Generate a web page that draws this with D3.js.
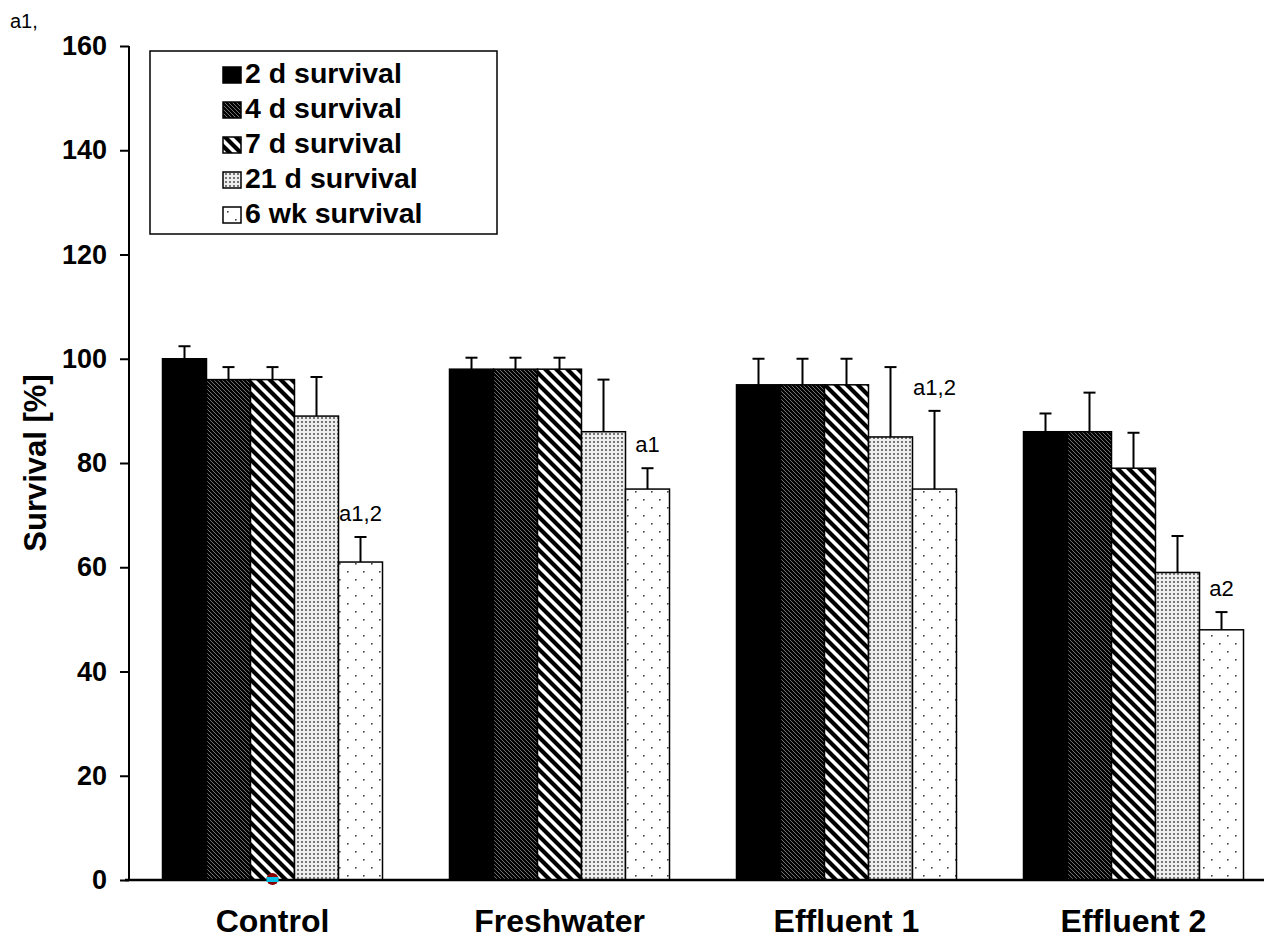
<!DOCTYPE html>
<html><head><meta charset="utf-8">
<script src="https://cdn.jsdelivr.net/npm/d3@7"></script>
<style>body{margin:0;background:#fff}svg{display:block}text{font-family:"Liberation Sans",Arial,sans-serif}</style>
</head><body>
<svg id="c" width="1264" height="946"></svg>
<script>
const groups = ["Control","Freshwater","Effluent 1","Effluent 2"];
const series = ["2 d survival","4 d survival","7 d survival","21 d survival","6 wk survival"];
const values = [
  [100, 96, 96, 89, 61],
  [98, 98, 98, 86, 75],
  [95, 95, 95, 85, 75],
  [86, 86, 79, 59, 48]
];
const errors = [
  [2.4, 2.4, 2.4, 7.5, 4.8],
  [2.2, 2.2, 2.2, 10, 4],
  [5, 5, 5, 13.4, 15],
  [3.5, 7.5, 6.8, 7, 3.4]
];
const annotations = [
  {g:0, s:4, text:"a1,2"},
  {g:1, s:4, text:"a1"},
  {g:2, s:4, text:"a1,2"},
  {g:3, s:4, text:"a2"}
];
const yTicks = [0,20,40,60,80,100,120,140,160];

const svg = d3.select("#c");
const defs = svg.append("defs");

function diag(id, p, sw, bg){
  const pt = defs.append("pattern").attr("id",id).attr("patternUnits","userSpaceOnUse")
    .attr("width",p).attr("height",p);
  pt.append("rect").attr("width",p).attr("height",p).attr("fill",bg);
  pt.append("path").attr("d",`M${-p},0 L${p},${2*p} M0,${-p} L${2*p},${p} M${-p},${-p} L${2*p},${2*p}`)
    .attr("stroke","#000").attr("stroke-width",sw);
}
diag("p4", 4, 2.5, "#fff");
diag("p7", 11, 4.2, "#fff");
{
  const pt = defs.append("pattern").attr("id","p21").attr("patternUnits","userSpaceOnUse").attr("width",4).attr("height",4);
  pt.append("rect").attr("width",4).attr("height",4).attr("fill","#eee");
  pt.append("rect").attr("x",1).attr("y",1).attr("width",2).attr("height",2).attr("fill","#777");
}
{
  const pt = defs.append("pattern").attr("id","p6").attr("patternUnits","userSpaceOnUse").attr("width",16).attr("height",16);
  pt.append("rect").attr("width",16).attr("height",16).attr("fill","#fff");
  pt.append("rect").attr("x",3).attr("y",3).attr("width",1.6).attr("height",1.6).attr("fill","#444");
  pt.append("rect").attr("x",11).attr("y",11).attr("width",1.6).attr("height",1.6).attr("fill","#444");
}
const fills = ["#000","url(#p4)","url(#p7)","url(#p21)","url(#p6)"];

const x0 = d3.scaleBand().domain(groups).range([129, 129+4*287]).padding(0);
const x1 = d3.scaleBand().domain(series).range([0, 220]).padding(0);
const y = d3.scaleLinear().domain([0,160]).range([880,46]);
const gOff = (x0.bandwidth()-220)/2;

const gg = svg.append("g");
groups.forEach((g,gi)=>{
  series.forEach((s,si)=>{
    const v = values[gi][si], e = errors[gi][si];
    const bx = x0(g)+gOff+x1(s);
    const cx = bx + x1.bandwidth()/2;
    gg.append("line").attr("x1",cx).attr("x2",cx).attr("y1",y(v)).attr("y2",y(v+e)).attr("stroke","#000").attr("stroke-width",2);
    gg.append("line").attr("x1",cx-6).attr("x2",cx+6).attr("y1",y(v+e)).attr("y2",y(v+e)).attr("stroke","#000").attr("stroke-width",2);
    gg.append("rect").attr("x",bx).attr("y",y(v)).attr("width",x1.bandwidth()).attr("height",y(0)-y(v))
      .attr("fill",fills[si]).attr("stroke","#000").attr("stroke-width",1.5);
  });
});

annotations.forEach(a=>{
  const v = values[a.g][a.s]+errors[a.g][a.s];
  const cx = x0(groups[a.g])+gOff+x1(series[a.s])+x1.bandwidth()/2;
  svg.append("text").attr("x",cx).attr("y",y(v)-16).attr("text-anchor","middle")
    .attr("font-size",22).text(a.text);
});

const ya = svg.append("g").attr("transform","translate(129,0)")
  .call(d3.axisLeft(y).tickValues(yTicks).tickSize(9).tickPadding(13).tickFormat(d3.format("d")));
ya.select(".domain").attr("stroke-width",2).attr("d","M0,46V880");
ya.selectAll(".tick line").attr("stroke-width",2);
ya.selectAll(".tick text").attr("font-size",27).attr("font-weight","bold").attr("font-family","Liberation Sans, Arial, sans-serif").attr("fill","#000");

const xa = svg.append("g").attr("transform","translate(0,880)")
  .call(d3.axisBottom(x0).tickSize(0).tickPadding(29));
xa.select(".domain").attr("stroke-width",2.5).attr("d","M125,0H1264");
xa.selectAll(".tick text").attr("font-size",32).attr("font-weight","bold").attr("font-family","Liberation Sans, Arial, sans-serif").attr("fill","#000");

svg.append("text").attr("transform","translate(46,463) rotate(-90)").attr("text-anchor","middle")
  .attr("font-size",31).attr("font-weight","bold").text("Survival [%]");

svg.append("text").attr("x",10).attr("y",28).attr("font-size",20).text("a1,");

const lg = svg.append("g");
lg.append("rect").attr("x",150).attr("y",51).attr("width",347).attr("height",183).attr("fill","#fff").attr("stroke","#000").attr("stroke-width",1.5);
series.forEach((s,i)=>{
  const base = 83 + i*35;
  lg.append("rect").attr("x",223).attr("y",base-16).attr("width",18).attr("height",16).attr("fill",fills[i]).attr("stroke","#000").attr("stroke-width",1.5);
  lg.append("text").attr("x",245).attr("y",base).attr("font-size",28.5).attr("font-weight","bold").text(s);
});

const mx = x0("Control")+gOff+x1(series[2])+x1.bandwidth()/2;
svg.append("ellipse").attr("cx",mx).attr("cy",879).attr("rx",6).attr("ry",6).attr("fill","#8b0000");
svg.append("rect").attr("x",mx-6).attr("y",877).attr("width",12).attr("height",5).attr("fill","#00c0e8");
</script>
</body></html>
